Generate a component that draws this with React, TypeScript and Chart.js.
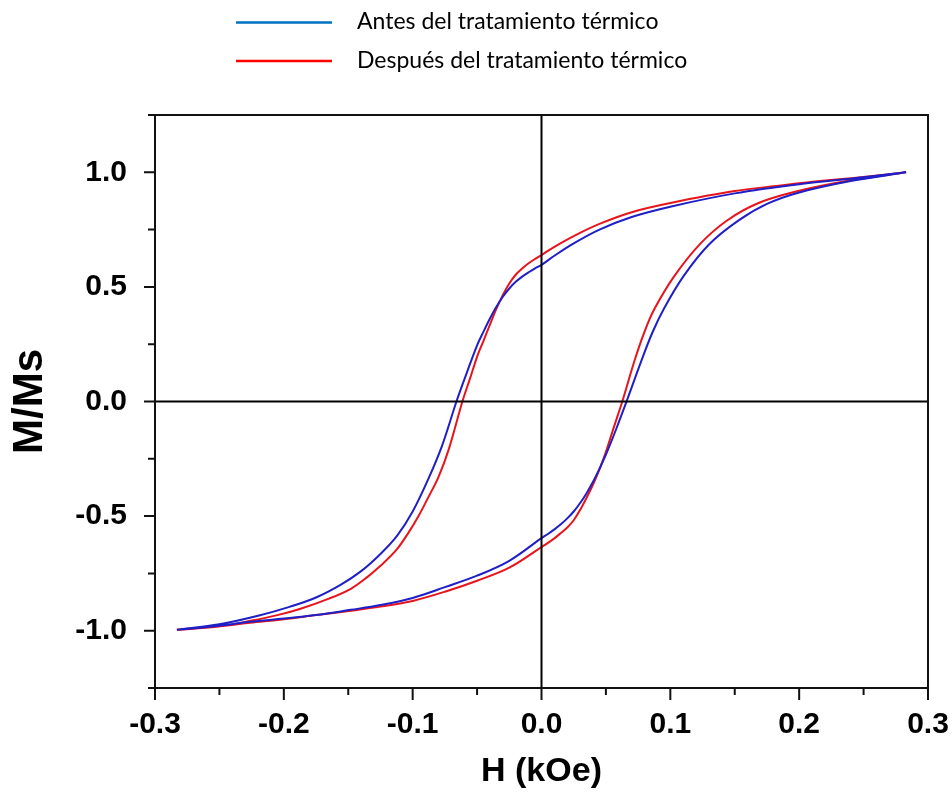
import React, { useEffect, useRef } from "react";
import { Chart, registerables } from "chart.js";

Chart.register(...registerables);

// ---- Data (H in kOe, M/Ms) ----
// Before heat treatment (blue): descending branch (from +Hmax to -Hmax)
const H_BLUE_DOWN = [0.283, 0.25, 0.2, 0.15, 0.1, 0.07, 0.045, 0.025, 0.01, 0.0, -0.005, -0.01, -0.015, -0.02, -0.025, -0.03, -0.035, -0.04, -0.045, -0.05, -0.058, -0.066, -0.077, -0.088, -0.1, -0.112, -0.125, -0.14, -0.156, -0.175, -0.195, -0.22, -0.25, -0.283];
const M_BLUE_DOWN = [1.0, 0.978, 0.948, 0.908, 0.85, 0.805, 0.75, 0.69, 0.636, 0.596, 0.581, 0.564, 0.545, 0.522, 0.493, 0.457, 0.413, 0.362, 0.305, 0.245, 0.125, 0.0, -0.19, -0.34, -0.48, -0.585, -0.665, -0.74, -0.8, -0.855, -0.895, -0.935, -0.972, -0.996];
// Before heat treatment (blue): ascending branch (from -Hmax to +Hmax)
const H_BLUE_UP = [-0.283, -0.25, -0.226, -0.2, -0.175, -0.148, -0.125, -0.1, -0.075, -0.05, -0.025, 0.0, 0.005, 0.01, 0.015, 0.02, 0.025, 0.03, 0.035, 0.04, 0.045, 0.05, 0.058, 0.066, 0.077, 0.086, 0.095, 0.11, 0.13, 0.153, 0.175, 0.2, 0.24, 0.283];
const M_BLUE_UP = [-0.996, -0.978, -0.961, -0.947, -0.932, -0.909, -0.888, -0.857, -0.81, -0.76, -0.695, -0.596, -0.578, -0.558, -0.536, -0.51, -0.48, -0.443, -0.4, -0.35, -0.293, -0.232, -0.12, 0.0, 0.17, 0.3, 0.405, 0.545, 0.685, 0.79, 0.862, 0.912, 0.962, 1.0];

// After heat treatment (red): descending branch
const H_RED_DOWN = [0.283, 0.25, 0.2, 0.15, 0.1, 0.07, 0.045, 0.025, 0.01, 0.0, -0.005, -0.01, -0.015, -0.02, -0.025, -0.03, -0.035, -0.04, -0.045, -0.05, -0.0555, -0.0614, -0.072, -0.08, -0.0886, -0.095, -0.103, -0.113, -0.125, -0.135, -0.148, -0.165, -0.187, -0.205, -0.226, -0.252, -0.283];
const M_RED_DOWN = [1.0, 0.98, 0.952, 0.918, 0.866, 0.826, 0.775, 0.722, 0.675, 0.639, 0.622, 0.603, 0.58, 0.553, 0.515, 0.465, 0.405, 0.335, 0.265, 0.195, 0.1, 0.0, -0.209, -0.33, -0.426, -0.495, -0.57, -0.65, -0.717, -0.765, -0.817, -0.86, -0.904, -0.932, -0.957, -0.983, -0.996];
// After heat treatment (red): ascending branch
const H_RED_UP = [-0.283, -0.25, -0.226, -0.2, -0.175, -0.148, -0.125, -0.1, -0.075, -0.05, -0.025, 0.0, 0.005, 0.01, 0.015, 0.02, 0.025, 0.03, 0.035, 0.04, 0.045, 0.05, 0.056, 0.0627, 0.0723, 0.08, 0.0873, 0.1028, 0.1235, 0.1443, 0.1676, 0.196, 0.24, 0.283];
const M_RED_UP = [-0.996, -0.98, -0.965, -0.95, -0.932, -0.913, -0.895, -0.87, -0.83, -0.782, -0.725, -0.635, -0.617, -0.597, -0.574, -0.55, -0.518, -0.473, -0.42, -0.362, -0.296, -0.22, -0.115, 0.0, 0.18, 0.305, 0.4, 0.545, 0.69, 0.791, 0.864, 0.914, 0.965, 1.0];

const SERIES_LABELS = ["Antes del tratamiento térmico", "Después del tratamiento térmico"];
const X_TITLE = "H (kOe)";
const Y_TITLE = "M/Ms";
const X_MIN = -0.3, X_MAX = 0.3, X_STEP = 0.05;
const Y_MIN = -1.25, Y_MAX = 1.25, Y_STEP = 0.25;

const BLUE = "#1f1fc8";
const RED = "#e8141c";
const LEGEND_BLUE = "#0070c0";
const LEGEND_RED = "#ff0000";

function toPoints(hs: number[], ms: number[]) {
  return hs.map((h, i) => ({ x: h, y: ms[i] }));
}

const isMajor = (v: number, per: number) => Math.abs(v * per - Math.round(v * per)) < 1e-6;
const fmt = (v: number) => (Math.abs(v) < 1e-9 ? "0.0" : v.toFixed(1));
const FONT = "'Liberation Sans', Arial, sans-serif";

const framePlugin = {
  id: "frameTicks",
  afterDatasetsDraw(chart: any) {
    const { ctx, chartArea: a, scales } = chart;
    const x0 = scales.x.getPixelForValue(0);
    const y0 = scales.y.getPixelForValue(0);
    ctx.save();
    ctx.strokeStyle = "#000";
    ctx.lineWidth = 2;
    ctx.beginPath();
    ctx.moveTo(x0, a.top);
    ctx.lineTo(x0, a.bottom);
    ctx.moveTo(a.left, y0);
    ctx.lineTo(a.right, y0);
    ctx.stroke();
    ctx.restore();
  },
  afterDraw(chart: any) {
    const { ctx, chartArea: a, scales } = chart;
    ctx.save();
    ctx.strokeStyle = "#111";
    ctx.lineWidth = 2;
    ctx.strokeRect(a.left, a.top, a.right - a.left, a.bottom - a.top);
    ctx.beginPath();
    for (const t of scales.y.ticks) {
      const y = scales.y.getPixelForValue(t.value);
      const len = isMajor(t.value, 2) ? 11 : 7;
      ctx.moveTo(a.left - len, y);
      ctx.lineTo(a.left, y);
    }
    for (const t of scales.x.ticks) {
      const x = scales.x.getPixelForValue(t.value);
      const len = isMajor(t.value, 10) ? 12 : 7;
      ctx.moveTo(x, a.bottom);
      ctx.lineTo(x, a.bottom + len);
    }
    ctx.stroke();

    // legend
    const items = [
      { label: SERIES_LABELS[0], color: LEGEND_BLUE, y: 22.5, base: 29 },
      { label: SERIES_LABELS[1], color: LEGEND_RED, y: 61, base: 68 },
    ];
    ctx.font = "23px Lato";
    ctx.textBaseline = "alphabetic";
    ctx.textAlign = "left";
    for (const it of items) {
      ctx.strokeStyle = it.color;
      ctx.lineWidth = 2.5;
      ctx.beginPath();
      ctx.moveTo(236, it.y);
      ctx.lineTo(332, it.y);
      ctx.stroke();
      ctx.fillStyle = "#000";
      ctx.fillText(it.label, 357, it.base);
    }
    ctx.restore();
  },
};

export default function App() {
  const ref = useRef<HTMLCanvasElement | null>(null);
  useEffect(() => {
    document.body.style.margin = "0";
    const canvas = ref.current;
    if (!canvas) return;
    const chart = new Chart(canvas, {
      type: "scatter",
      data: {
        datasets: [
          {
            label: SERIES_LABELS[0],
            data: [...toPoints(H_BLUE_DOWN, M_BLUE_DOWN), ...toPoints(H_BLUE_UP, M_BLUE_UP)],
            showLine: true,
            borderColor: BLUE,
            backgroundColor: BLUE,
            borderWidth: 2,
            pointRadius: 0,
            tension: 0.35,
          },
          {
            label: SERIES_LABELS[1],
            data: [...toPoints(H_RED_DOWN, M_RED_DOWN), ...toPoints(H_RED_UP, M_RED_UP)],
            showLine: true,
            borderColor: RED,
            backgroundColor: RED,
            borderWidth: 2,
            pointRadius: 0,
            tension: 0.35,
          },
        ],
      },
      options: {
        responsive: false,
        animation: false,
        events: [],
        layout: { padding: { top: 115, right: 24, bottom: 0, left: 0 } },
        plugins: { legend: { display: false }, tooltip: { enabled: false } },
        scales: {
          x: {
            type: "linear",
            min: X_MIN,
            max: X_MAX,
            afterFit: (s: any) => { s.height = 108; s.paddingLeft = 0; s.paddingRight = 0; },
            grid: { display: false },
            border: { display: false },
            ticks: {
              stepSize: X_STEP,
              autoSkip: false,
              maxRotation: 0,
              padding: 11,
              color: "#000",
              font: { family: FONT, size: 30, weight: "bold" },
              callback: (v: any) => (isMajor(Number(v), 10) ? fmt(Number(v)) : ""),
            },
            title: {
              display: true,
              text: X_TITLE,
              color: "#000",
              padding: { top: 0, bottom: 4 },
              font: { family: FONT, size: 34, weight: "bold" },
            },
          },
          y: {
            type: "linear",
            min: Y_MIN,
            max: Y_MAX,
            afterFit: (s: any) => { s.width = 155; s.paddingTop = 0; s.paddingBottom = 0; },
            grid: { display: false },
            border: { display: false },
            ticks: {
              stepSize: Y_STEP,
              autoSkip: false,
              padding: 20,
              color: "#000",
              font: { family: FONT, size: 30, weight: "bold" },
              callback: (v: any) => (isMajor(Number(v), 2) ? fmt(Number(v)) : ""),
            },
            title: {
              display: true,
              text: Y_TITLE,
              color: "#000",
              padding: { top: 5, bottom: 0 },
              font: { family: FONT, size: 42, weight: "bold" },
            },
          },
        },
      },
      plugins: [framePlugin],
    } as any);
    return () => chart.destroy();
  }, []);
  return (
    <div style={{ width: 952, height: 796, background: "#fff" }}>
      <canvas ref={ref} width={952} height={796} style={{ display: "block" }} />
    </div>
  );
}
